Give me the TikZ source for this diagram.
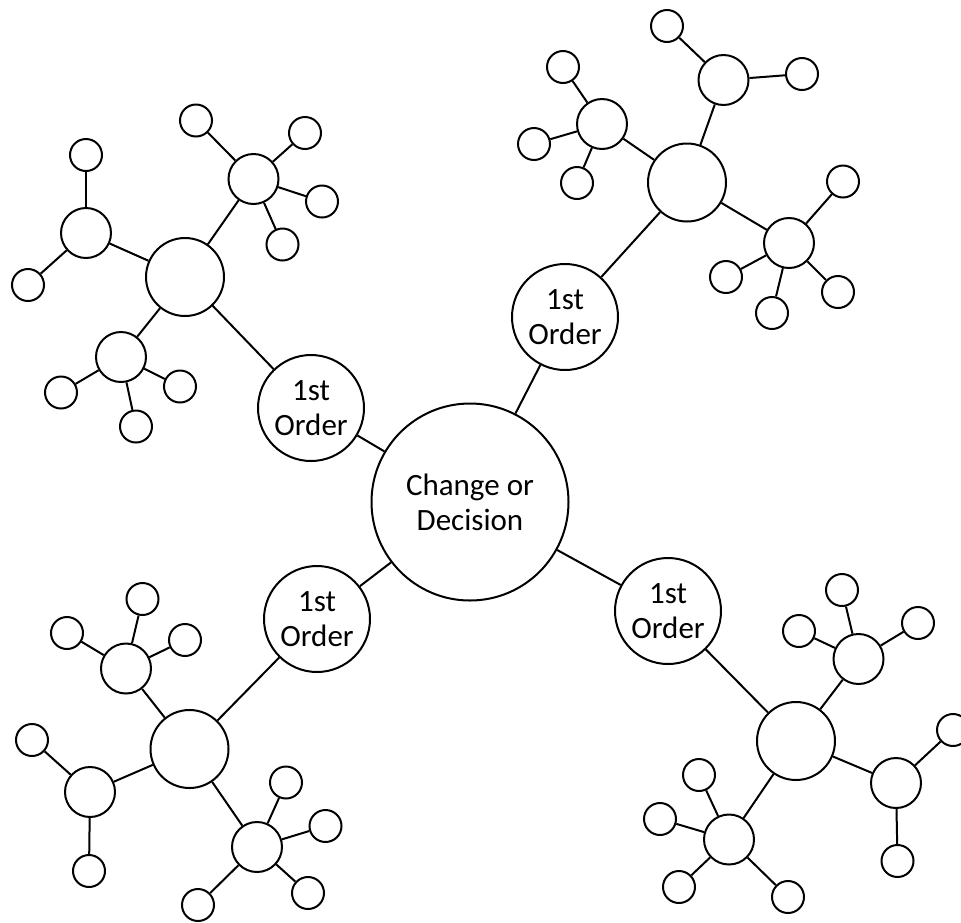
\documentclass[tikz,border=0pt]{standalone}
\usepackage{fontspec}
\setmainfont{Carlito}
\begin{document}
\begin{tikzpicture}[x=1pt,y=-1pt,
  base/.style={circle,draw=black,line width=2pt,fill=white,inner sep=0pt,align=center},
  hub/.style={base,minimum size=197pt,font=\fontsize{31}{35}\selectfont},
  first/.style={base,minimum size=106pt,font=\fontsize{31}{35}\selectfont},
  big/.style={base,minimum size=78pt},
  sat/.style={base,minimum size=50pt},
  leaf/.style={base,minimum size=32pt},
  link/.style={line width=2pt,black}]
\clip (0,0) rectangle (961,922);
\useasboundingbox (0,0) rectangle (961,922);
% centre and first order
\node[hub] (c) at (470,502) {Change or\\Decision};
\node[first] (o1) at (311,408) {1st\\Order};
\node[first] (o2) at (565,317) {1st\\Order};
\node[first] (o3) at (317,619) {1st\\Order};
\node[first] (o4) at (668,611) {1st\\Order};
% cluster 1 (top-left)
\node[big] (b1) at (185,277) {};
\node[sat] (s1a) at (86,233) {};
\node[sat] (s1b) at (253.5,179) {};
\node[sat] (s1c) at (121,357) {};
\node[leaf] (l1a1) at (86,155) {};
\node[leaf] (l1a2) at (28,285) {};
\node[leaf] (l1b1) at (196,120.5) {};
\node[leaf] (l1b2) at (305,133) {};
\node[leaf] (l1b3) at (322,201.5) {};
\node[leaf] (l1b4) at (282.5,244.5) {};
\node[leaf] (l1c1) at (61,392.5) {};
\node[leaf] (l1c2) at (180,386.5) {};
\node[leaf] (l1c3) at (136,426.5) {};
% cluster 2 (top-right)
\node[big] (b2) at (687,182.5) {};
\node[sat] (s2a) at (723.5,80) {};
\node[sat] (s2b) at (602,124) {};
\node[sat] (s2c) at (789,243) {};
\node[leaf] (l2a1) at (667,26) {};
\node[leaf] (l2a2) at (802,74) {};
\node[leaf] (l2b1) at (563,67) {};
\node[leaf] (l2b2) at (534,144) {};
\node[leaf] (l2b3) at (577,183) {};
\node[leaf] (l2c1) at (843,181.5) {};
\node[leaf] (l2c2) at (726,277) {};
\node[leaf] (l2c3) at (772,313) {};
\node[leaf] (l2c4) at (838,292) {};
% cluster 3 (bottom-left)
\node[big] (b3) at (189.5,749) {};
\node[sat] (s3a) at (126,668.5) {};
\node[sat] (s3b) at (90,792) {};
\node[sat] (s3c) at (257,847) {};
\node[leaf] (l3a1) at (142.5,599) {};
\node[leaf] (l3a2) at (67,633) {};
\node[leaf] (l3a3) at (185,640) {};
\node[leaf] (l3b1) at (32,740) {};
\node[leaf] (l3b2) at (89,871) {};
\node[leaf] (l3c1) at (286,782.5) {};
\node[leaf] (l3c2) at (325.5,826) {};
\node[leaf] (l3c3) at (308,893) {};
\node[leaf] (l3c4) at (198,905) {};
% cluster 4 (bottom-right)
\node[big] (b4) at (796,741) {};
\node[sat] (s4a) at (858.5,659) {};
\node[sat] (s4b) at (896,783) {};
\node[sat] (s4c) at (729,839.5) {};
\node[leaf] (l4a1) at (842,590) {};
\node[leaf] (l4a2) at (799,631) {};
\node[leaf] (l4a3) at (918,623) {};
\node[leaf] (l4b1) at (953,730) {};
\node[leaf] (l4b2) at (897.5,861) {};
\node[leaf] (l4c1) at (699,775) {};
\node[leaf] (l4c2) at (660,819) {};
\node[leaf] (l4c3) at (679,887) {};
\node[leaf] (l4c4) at (788,897) {};
% connectors
\foreach \a/\b in {c/o1,c/o2,c/o3,c/o4,o1/b1,o2/b2,o3/b3,o4/b4,
  b1/s1a,b1/s1b,b1/s1c,s1a/l1a1,s1a/l1a2,s1b/l1b1,s1b/l1b2,s1b/l1b3,s1b/l1b4,s1c/l1c1,s1c/l1c2,s1c/l1c3,
  b2/s2a,b2/s2b,b2/s2c,s2a/l2a1,s2a/l2a2,s2b/l2b1,s2b/l2b2,s2b/l2b3,s2c/l2c1,s2c/l2c2,s2c/l2c3,s2c/l2c4,
  b3/s3a,b3/s3b,b3/s3c,s3a/l3a1,s3a/l3a2,s3a/l3a3,s3b/l3b1,s3b/l3b2,s3c/l3c1,s3c/l3c2,s3c/l3c3,s3c/l3c4,
  b4/s4a,b4/s4b,b4/s4c,s4a/l4a1,s4a/l4a2,s4a/l4a3,s4b/l4b1,s4b/l4b2,s4c/l4c1,s4c/l4c2,s4c/l4c3,s4c/l4c4}
  \draw[link] (\a) -- (\b);
\end{tikzpicture}
\end{document}
